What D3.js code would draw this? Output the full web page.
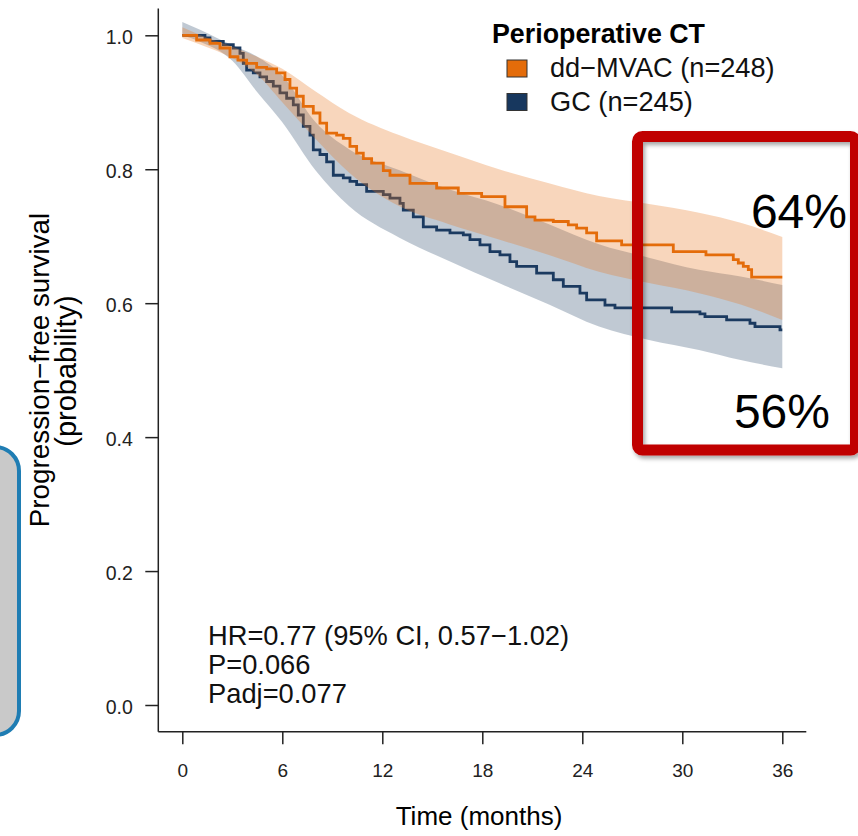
<!DOCTYPE html>
<html>
<head>
<meta charset="utf-8">
<script src="https://cdn.jsdelivr.net/npm/d3@7.9.0/dist/d3.min.js"></script>
<style>
  body { margin: 0; background: #fff; }
  svg { display: block; font-family: 'Liberation Sans', Arial, Helvetica, sans-serif; }
</style>
</head>
<body>
<svg id="chart" width="858" height="836"></svg>
<script>
// Kaplan-Meier steps (months, survival)
const mvacTime = [0, 0.86, 1.66, 2.26, 2.86, 3.34, 3.86, 4.46, 5.06, 5.66, 6.16, 6.46, 6.86, 7.26, 7.86, 8.26, 8.66, 9.26, 9.66, 10.06, 10.46, 10.86, 11.36, 12.06, 12.46, 13.66, 15.26, 16.56, 17.96, 19.36, 20.66, 21.16, 22.26, 23.16, 23.66, 24.26, 24.86, 26.36, 29.46, 31.42, 33.06, 33.36, 33.66, 33.96, 34.16, 36];
const mvacSurv = [1, 0.993, 0.988, 0.981, 0.968, 0.963, 0.958, 0.952, 0.950, 0.944, 0.934, 0.921, 0.909, 0.894, 0.884, 0.869, 0.854, 0.851, 0.846, 0.834, 0.824, 0.816, 0.809, 0.798, 0.791, 0.779, 0.772, 0.764, 0.759, 0.744, 0.729, 0.724, 0.722, 0.717, 0.712, 0.705, 0.693, 0.687, 0.677, 0.672, 0.665, 0.660, 0.655, 0.650, 0.639, 0.639];

const gcTime = [0, 1.36, 1.66, 2.46, 3.06, 3.46, 3.66, 3.86, 4.26, 4.66, 5.06, 5.46, 5.86, 6.26, 6.66, 6.96, 7.26, 7.66, 7.86, 8.26, 8.66, 9.06, 9.66, 10.06, 10.46, 11.06, 12.06, 12.46, 13.06, 13.26, 13.86, 14.46, 15.26, 16.06, 16.86, 17.26, 17.86, 18.46, 19.06, 19.66, 20.06, 21.26, 22.26, 22.86, 23.86, 24.26, 25.36, 25.96, 29.36, 31.06, 31.36, 32.66, 34.06, 34.36, 35.86, 36];
const gcSurv = [1, 0.996, 0.991, 0.986, 0.981, 0.973, 0.958, 0.948, 0.944, 0.938, 0.931, 0.924, 0.914, 0.906, 0.896, 0.881, 0.864, 0.851, 0.829, 0.822, 0.811, 0.791, 0.787, 0.782, 0.777, 0.767, 0.762, 0.757, 0.749, 0.739, 0.729, 0.714, 0.709, 0.705, 0.702, 0.695, 0.687, 0.677, 0.672, 0.662, 0.655, 0.645, 0.635, 0.625, 0.615, 0.605, 0.597, 0.593, 0.587, 0.584, 0.580, 0.575, 0.570, 0.565, 0.560, 0.560];

// 95% confidence bands
const ciTime    = [0, 1.1, 3, 4.5, 6, 8, 10, 13, 16, 19, 22, 25, 28, 31, 33.5, 36];
const mvacUpper = [1.012, 1.0, 0.983, 0.968, 0.950, 0.916, 0.884, 0.851, 0.825, 0.800, 0.779, 0.760, 0.748, 0.735, 0.720, 0.699];
const mvacLower = [0.996, 0.986, 0.966, 0.941, 0.900, 0.845, 0.795, 0.745, 0.718, 0.695, 0.672, 0.647, 0.630, 0.615, 0.598, 0.575];
const gcUpper   = [1.020, 1.008, 0.985, 0.968, 0.940, 0.870, 0.830, 0.799, 0.770, 0.747, 0.718, 0.688, 0.668, 0.650, 0.640, 0.627];
const gcLower   = [1.000, 0.990, 0.962, 0.915, 0.870, 0.798, 0.745, 0.698, 0.663, 0.630, 0.598, 0.565, 0.545, 0.530, 0.515, 0.503];

const xTicks = [0, 6, 12, 18, 24, 30, 36];
const yTicks = [0, 0.2, 0.4, 0.6, 0.8, 1.0];

const groups = ['dd\u2212MVAC (n=248)', 'GC (n=245)'];
const statLines = ['HR=0.77 (95% CI, 0.57\u22121.02)', 'P=0.066', 'Padj=0.077'];
const callouts = ['64%', '56%'];

const orange = '#E46C0A';
const navy = '#1B3A60';

const svg = d3.select('#chart');

const defs = svg.append('defs');
const shadow = defs.append('filter').attr('id', 'shadow')
    .attr('x', '-10%').attr('y', '-10%').attr('width', '130%').attr('height', '130%');
shadow.append('feDropShadow')
    .attr('dx', 2).attr('dy', 3).attr('stdDeviation', 2)
    .attr('flood-color', '#000').attr('flood-opacity', 0.35);

// slide decoration on the left edge
svg.append('rect')
    .attr('x', -41).attr('y', 447)
    .attr('width', 60).attr('height', 288)
    .attr('rx', 24)
    .attr('fill', '#C9C9C9')
    .attr('stroke', '#1F7DB3')
    .attr('stroke-width', 4);

const x = d3.scaleLinear().domain([0, 36]).range([182.3, 782.3]);
const y = d3.scaleLinear().domain([0, 1]).range([705, 35.3]);

// L-shaped frame, extended 4% like base R
svg.append('line')
    .attr('x1', x(-1.44)).attr('x2', x(-1.44))
    .attr('y1', y(1.04)).attr('y2', y(-0.04))
    .attr('stroke', '#222').attr('stroke-width', 1.5);
svg.append('line')
    .attr('x1', x(-1.44)).attr('x2', x(37.44))
    .attr('y1', y(-0.04)).attr('y2', y(-0.04))
    .attr('stroke', '#222').attr('stroke-width', 1.5);

let xAxis = svg.append('g')
    .attr('transform', `translate(0,${y(-0.04)})`)
    .call(d3.axisBottom(x).tickValues(xTicks).tickSize(12.5).tickSizeOuter(0).tickFormat(d3.format('d')));
xAxis.select('.domain').remove();
xAxis.selectAll('line').attr('stroke', '#222').attr('stroke-width', 1.5);
xAxis.selectAll('text')
    .attr('y', 45).attr('dy', 0)
    .attr('fill', '#222')
    .style('font-size', '19px')
    .style('font-family', "'Liberation Sans', Arial, sans-serif");

let yAxis = svg.append('g')
    .attr('transform', `translate(${x(-1.44)},0)`)
    .call(d3.axisLeft(y).tickValues(yTicks).tickSize(13).tickSizeOuter(0).tickFormat(d3.format('.1f')));
yAxis.select('.domain').remove();
yAxis.selectAll('line').attr('stroke', '#222').attr('stroke-width', 1.5);
yAxis.selectAll('text')
    .attr('x', -25.5).attr('dy', '0.42em')
    .attr('fill', '#222')
    .style('font-size', '19.5px')
    .style('font-family', "'Liberation Sans', Arial, sans-serif");

// bands and curves
const band = d3.area()
    .x((d) => x(d.t))
    .y0((d) => y(d.lo))
    .y1((d) => y(d.hi))
    .curve(d3.curveMonotoneX);

const step = d3.line()
    .x((d) => x(d.t))
    .y((d) => y(d.s))
    .curve(d3.curveStepAfter);

let gcBand = ciTime.map((t, i) => ({ t: t, lo: gcLower[i], hi: gcUpper[i] }));
let mvacBand = ciTime.map((t, i) => ({ t: t, lo: mvacLower[i], hi: mvacUpper[i] }));
let gcKm = gcTime.map((t, i) => ({ t: t, s: gcSurv[i] }));
let mvacKm = mvacTime.map((t, i) => ({ t: t, s: mvacSurv[i] }));

svg.append('path').attr('d', band(gcBand))
    .attr('fill', '#17375E').attr('fill-opacity', 0.27);
svg.append('path').attr('d', step(gcKm))
    .attr('fill', 'none').attr('stroke', navy).attr('stroke-width', 2.8);
svg.append('path').attr('d', band(mvacBand))
    .attr('fill', '#E87722').attr('fill-opacity', 0.3);
svg.append('path').attr('d', step(mvacKm))
    .attr('fill', 'none').attr('stroke', orange).attr('stroke-width', 2.8);

// axis titles
svg.append('text')
    .attr('x', 479).attr('y', 825)
    .attr('text-anchor', 'middle')
    .style('font-size', '26px')
    .text('Time (months)');

svg.append('text')
    .attr('transform', 'translate(49,370) rotate(-90)')
    .attr('text-anchor', 'middle')
    .style('font-size', '27.8px')
    .text('Progression\u2212free survival');
svg.append('text')
    .attr('transform', 'translate(76,371) rotate(-90)')
    .attr('text-anchor', 'middle')
    .style('font-size', '29px')
    .text('(probability)');

// stats
statLines.forEach((s, i) => {
    svg.append('text')
        .attr('x', 208).attr('y', 645 + i * 29)
        .style('font-size', '27.3px')
        .attr('fill', '#111')
        .text(s);
});

// legend
svg.append('text')
    .attr('x', 492).attr('y', 43)
    .style('font-size', '26.8px')
    .style('font-weight', 'bold')
    .text('Perioperative CT');

let legendColors = [orange, '#17375E'];
groups.forEach((g, i) => {
    svg.append('rect')
        .attr('x', 507).attr('y', 60 + i * 33.5)
        .attr('width', 20).attr('height', 17)
        .attr('fill', legendColors[i])
        .attr('stroke', '#333').attr('stroke-width', 1);
    svg.append('text')
        .attr('x', 550).attr('y', 77 + i * 33.5)
        .style('font-size', '27.2px')
        .attr('fill', '#111')
        .text(g);
});

// highlight box
svg.append('rect')
    .attr('x', 637.5).attr('y', 136.5)
    .attr('width', 218).attr('height', 313.5)
    .attr('rx', 5)
    .attr('fill', 'none')
    .attr('stroke', '#C00000')
    .attr('stroke-width', 11)
    .attr('filter', 'url(#shadow)');

svg.append('text')
    .attr('x', 847).attr('y', 228)
    .attr('text-anchor', 'end')
    .style('font-size', '48px')
    .text(callouts[0]);
svg.append('text')
    .attr('x', 830).attr('y', 428)
    .attr('text-anchor', 'end')
    .style('font-size', '48px')
    .text(callouts[1]);
</script>
</body>
</html>
